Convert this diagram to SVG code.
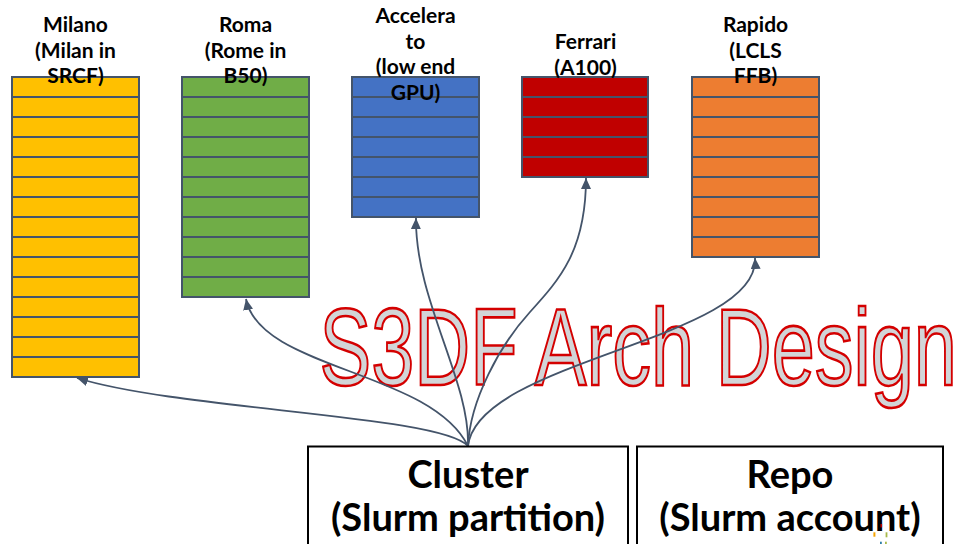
<svg xmlns="http://www.w3.org/2000/svg" width="959" height="544" viewBox="0 0 959 544">
  <defs>
    <style>
      .stack { stroke: #44546A; stroke-width: 2; }
      .rows { stroke: #44546A; stroke-width: 2; fill: none; }
      .lbl { font-family: Lato, "Open Sans", sans-serif; font-weight: bold; font-size: 21px; fill: #000; text-anchor: middle; }
      .big { font-family: Lato, "Open Sans", sans-serif; font-weight: bold; font-size: 38px; fill: #000; text-anchor: middle; }
      .box { fill: #fff; stroke: #000; stroke-width: 2; }
      .conn { fill: none; stroke: #44546A; stroke-width: 1.8; marker-end: url(#arrow); }
      .title { font-family: "Liberation Sans", Arial, sans-serif; font-size: 109px; fill: #D2D5D7; stroke: #D40000; stroke-width: 2.6; }
    </style>
    <marker id="arrow" markerUnits="userSpaceOnUse" markerWidth="12" markerHeight="10" refX="11" refY="5" orient="auto">
      <path d="M0,0 L11,5 L0,10 z" fill="#44546A"/>
    </marker>
  </defs>

  <!-- Milano partition -->
  <g id="milano">
    <rect class="stack" x="12" y="77" width="127" height="300" fill="#FFC000"/>
    <path class="rows" d="M12,97h127M12,117h127M12,137h127M12,157h127M12,177h127M12,197h127M12,217h127M12,237h127M12,257h127M12,277h127M12,297h127M12,317h127M12,337h127M12,357h127"/>
    <text class="lbl" x="75.5" y="32">Milano</text>
    <text class="lbl" x="75.5" y="57.5">(Milan in</text>
    <text class="lbl" x="75.5" y="83">SRCF)</text>
  </g>

  <!-- Roma partition -->
  <g id="roma">
    <rect class="stack" x="182" y="77" width="127" height="220" fill="#70AD47"/>
    <path class="rows" d="M182,97h127M182,117h127M182,137h127M182,157h127M182,177h127M182,197h127M182,217h127M182,237h127M182,257h127M182,277h127"/>
    <text class="lbl" x="245.5" y="32">Roma</text>
    <text class="lbl" x="245.5" y="57.5">(Rome in</text>
    <text class="lbl" x="245.5" y="83">B50)</text>
  </g>

  <!-- Accelerator partition -->
  <g id="accelerator">
    <rect class="stack" x="352" y="77" width="127" height="140" fill="#4472C4"/>
    <path class="rows" d="M352,97h127M352,117h127M352,137h127M352,157h127M352,177h127M352,197h127"/>
    <text class="lbl" x="415.5" y="23">Accelera</text>
    <text class="lbl" x="415.5" y="48.5">to</text>
    <text class="lbl" x="415.5" y="74">(low end</text>
    <text class="lbl" x="415.5" y="99.5">GPU)</text>
  </g>

  <!-- Ferrari partition -->
  <g id="ferrari">
    <rect class="stack" x="522" y="77" width="126" height="100" fill="#C00000"/>
    <path class="rows" d="M522,97h126M522,117h126M522,137h126M522,157h126"/>
    <text class="lbl" x="585.5" y="49">Ferrari</text>
    <text class="lbl" x="585.5" y="74.5">(A100)</text>
  </g>

  <!-- Rapido partition -->
  <g id="rapido">
    <rect class="stack" x="692" y="77" width="127" height="180" fill="#ED7D31"/>
    <path class="rows" d="M692,97h127M692,117h127M692,137h127M692,157h127M692,177h127M692,197h127M692,217h127M692,237h127"/>
    <text class="lbl" x="755.5" y="32">Rapido</text>
    <text class="lbl" x="755.5" y="57.5">(LCLS</text>
    <text class="lbl" x="755.5" y="83">FFB)</text>
  </g>

  <!-- Title word-art -->
  <text class="title" transform="translate(319.5,385) scale(0.711,1)" x="0" y="0">S3DF Arch Design</text>

  <!-- Cluster -> partitions -->
  <g id="connectors">
    <path class="conn" d="M468,446 C440,415 180,410 77,378"/>
    <path class="conn" d="M468,446 C430,370 260,370 246,299"/>
    <path class="conn" d="M468,446 C470,380 415,300 416,218"/>
    <path class="conn" d="M468,446 C470,400 500,345 530,312 S586,250 586,178"/>
    <path class="conn" d="M468,446 C478,360 760,340 755,258"/>
  </g>

  <!-- Cluster box -->
  <g id="cluster">
    <rect class="box" x="308" y="446.5" width="320" height="110"/>
    <text class="big" x="468" y="488">Cluster</text>
    <text class="big" x="468" y="531">(Slurm partition)</text>
  </g>

  <!-- Repo box -->
  <g id="repo">
    <rect class="box" x="637" y="446.5" width="306" height="110"/>
    <text class="big" x="790" y="488">Repo</text>
    <text class="big" x="790" y="531">(Slurm account)</text>
  </g>

  <!-- small logo marks -->
  <g id="logo-marks">
    <rect x="880.5" y="524" width="1.6" height="3.4" fill="#C00000"/>
    <rect x="873.4" y="532.3" width="2" height="4.4" fill="#F4A300"/>
    <rect x="885.6" y="532.3" width="1.8" height="5" fill="#A8B84A"/>
    <rect x="880" y="541.7" width="1.8" height="2.3" fill="#2E7FA8"/>
    <rect x="885" y="541.7" width="1.8" height="2.3" fill="#A8B84A"/>
  </g>
</svg>
